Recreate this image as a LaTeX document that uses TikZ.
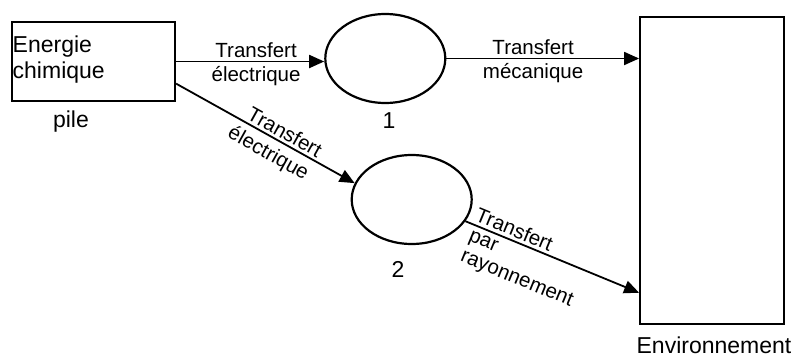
\documentclass[tikz,border=0pt]{standalone}
\usepackage{fontspec}
\setmainfont{Liberation Sans}
\usetikzlibrary{arrows.meta,calc,shapes.geometric}
\begin{document}
\begin{tikzpicture}[x=1pt,y=-1pt,
  frame/.style={draw, line width=2.2pt},
  blockbox/.style={frame, rectangle, inner sep=0pt},
  proc/.style={frame, ellipse, inner sep=0pt, minimum width=120pt, minimum height=89pt},
  big/.style={font=\fontsize{23}{26}\selectfont, inner sep=0pt},
  small/.style={font=\fontsize{20.5}{22}\selectfont, inner sep=2.5pt},
  under/.style={small, inner sep=4.5pt},
  flow/.style={line width=1.8pt, -{Triangle[length=15pt,width=13pt]}},
]
\useasboundingbox (0,0) rectangle (811,359);

% blocks
\node[blockbox, minimum width=163pt, minimum height=79pt] (pile) at (93.5,61.5) {};
\node[blockbox, minimum width=144pt, minimum height=307pt] (env) at (712.2,170.3) {};
\node[proc] (e1) at (385.3,58.5) {};
\node[proc] (e2) at (411.7,199.5) {};

% texts
\node[big, align=left, anchor=north west] (ptxt) at (12.5,35.5) {Energie\\chimique};
\node[big, anchor=base] (plab) at (71,127) {pile};
\node[big, anchor=base] (l1) at (389,128) {1};
\node[big, anchor=base] (l2) at (398,277) {2};
\node[big, anchor=base] (envlab) at (714,353) {Environnement};

% flows
\draw[flow] (pile.east) -- (pile.east -| e1.west)
  node[small, pos=0.54, above] {Transfert}
  node[under, pos=0.54, below] {électrique};
\draw[flow] (e1.east) -- (e1.east -| env.west)
  node[small, pos=0.45, above] {Transfert}
  node[under, pos=0.45, below] {mécanique};
\draw[flow] (pile.-15) -- (e2.164.5)
  node[small, pos=0.58, sloped, above] {Transfert}
  node[under, pos=0.56, sloped, below, inner sep=6pt] {électrique};
\draw[flow] (e2.-22.6) -- ($(env.south west)!0.104!(env.north west)$)
  node[small, pos=0.02, sloped, anchor=south west, inner sep=3pt] {Transfert}
  node[small, pos=0.02, sloped, anchor=north west, align=left, inner sep=5pt] {par\\rayonnement};
\end{tikzpicture}
\end{document}
